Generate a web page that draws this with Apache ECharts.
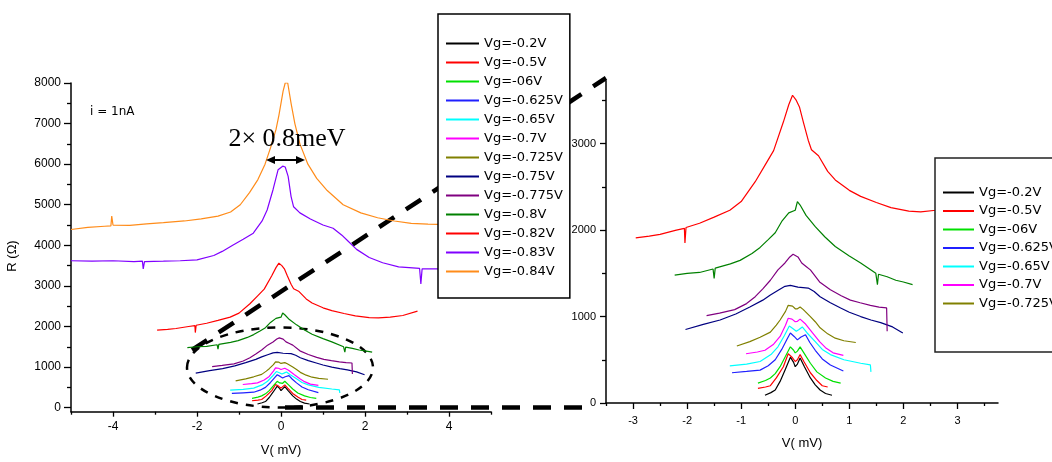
<!DOCTYPE html>
<html><head><meta charset="utf-8">
<script src="https://cdn.jsdelivr.net/npm/echarts@6/dist/echarts.min.js"></script>
<style>html,body{margin:0;padding:0;background:#fff}#c{width:1052px;height:462px}</style>
</head><body><div id="c"></div><script>
// ---- data (V in mV, R in Ohm) ----
const seriesNames = ['Vg=-0.2V','Vg=-0.5V','Vg=-06V','Vg=-0.625V','Vg=-0.65V','Vg=-0.7V','Vg=-0.725V','Vg=-0.75V','Vg=-0.775V','Vg=-0.8V','Vg=-0.82V','Vg=-0.83V','Vg=-0.84V'];
const seriesColors = ['#000000','#ff0000','#00e000','#2020ff','#00ffff','#ff00ff','#808000','#000080','#800080','#008000','#ff0000','#8000ff','#ff8c1a'];
const leftXTicks = [-4,-2,0,2,4];
const leftXMinor = [-5,-3,-1,1,3,5];
const leftYTicks = [0,1000,2000,3000,4000,5000,6000,7000,8000];
const leftYMinor = [500,1500,2500,3500,4500,5500,6500,7500];
const rightXTicks = [-3,-2,-1,0,1,2,3];
const rightXMinor = [-3.5,-2.5,-1.5,-0.5,0.5,1.5,2.5,3.5];
const rightYTicks = [0,1000,2000,3000];
const rightYMinor = [500,1500,2500,3500];
const rightLegendNames = ['Vg=-0.2V','Vg=-0.5V','Vg=-06V','Vg=-0.625V','Vg=-0.65V','Vg=-0.7V','Vg=-0.725V'];

const vg020 = [[-0.56,90],[-0.45,120],[-0.37,150],[-0.28,250],[-0.19,380],[-0.09,530],[-0.03,470],[0,420],[0.04,450],[0.09,520],[0.17,420],[0.28,290],[0.37,210],[0.46,150],[0.56,110],[0.68,90]];
const vg050 = [[-0.69,170],[-0.55,185],[-0.46,200],[-0.35,290],[-0.22,420],[-0.13,570],[-0.06,530],[0,480],[0.04,500],[0.09,560],[0.16,480],[0.28,350],[0.4,260],[0.5,200],[0.6,185]];
const vg060 = [[-0.69,230],[-0.55,260],[-0.46,290],[-0.37,340],[-0.28,420],[-0.18,540],[-0.09,650],[-0.03,610],[0,580],[0.04,600],[0.09,650],[0.18,560],[0.28,460],[0.4,360],[0.56,290],[0.7,250],[0.84,230]];
const vg0625 = [[-1.17,350],[-0.9,365],[-0.65,380],[-0.5,430],[-0.37,500],[-0.25,620],[-0.15,740],[-0.09,810],[-0.02,770],[0.04,730],[0.1,760],[0.19,790],[0.27,700],[0.37,610],[0.5,510],[0.65,440],[0.89,370]];
const vg065 = [[-1.21,430],[-0.9,450],[-0.65,480],[-0.45,560],[-0.32,650],[-0.2,780],[-0.11,890],[-0.04,860],[0.02,830],[0.07,850],[0.13,880],[0.22,810],[0.37,710],[0.5,620],[0.65,560],[0.9,500],[1.21,460],[1.39,440],[1.4,360]];
const vg070 = [[-0.91,570],[-0.7,590],[-0.56,610],[-0.4,680],[-0.28,770],[-0.18,900],[-0.13,980],[-0.06,970],[0,940],[0.04,945],[0.09,970],[0.18,920],[0.32,810],[0.45,710],[0.56,640],[0.7,580],[0.89,550]];
const vg0725 = [[-1.08,660],[-0.84,710],[-0.65,760],[-0.46,820],[-0.35,900],[-0.28,960],[-0.18,1060],[-0.13,1130],[-0.05,1120],[0,1090],[0.04,1090],[0.09,1110],[0.15,1080],[0.28,1000],[0.37,940],[0.46,870],[0.6,800],[0.74,750],[0.9,720],[1.12,700]];
const vg075 = [[-2.03,850],[-1.7,910],[-1.39,960],[-1.1,1030],[-0.84,1110],[-0.6,1190],[-0.46,1250],[-0.3,1310],[-0.19,1350],[-0.09,1360],[0.05,1340],[0.24,1330],[0.35,1290],[0.46,1230],[0.65,1160],[0.84,1100],[1.0,1050],[1.21,1000],[1.4,960],[1.58,930],[1.8,880],[1.99,810]];
const vg0775 = [[-1.64,1010],[-1.4,1040],[-1.12,1080],[-0.9,1150],[-0.74,1230],[-0.6,1320],[-0.46,1420],[-0.32,1540],[-0.19,1620],[-0.1,1690],[-0.04,1720],[0.05,1690],[0.12,1620],[0.2,1580],[0.28,1540],[0.45,1400],[0.65,1310],[0.85,1240],[1.02,1190],[1.2,1160],[1.39,1130],[1.55,1110],[1.69,1100],[1.7,830]];
const vg080 = [[-2.23,1480],[-2.0,1500],[-1.77,1510],[-1.52,1550],[-1.5,1440],[-1.48,1560],[-1.2,1610],[-1.02,1650],[-0.8,1730],[-0.65,1800],[-0.5,1890],[-0.37,1970],[-0.25,2100],[-0.12,2200],[0,2230],[0.04,2330],[0.09,2290],[0.2,2170],[0.37,2040],[0.55,1920],[0.74,1810],[1.0,1700],[1.21,1620],[1.49,1500],[1.52,1370],[1.54,1490],[1.7,1460],[1.86,1420],[2.0,1400],[2.17,1370]];
const vg082 = [[-2.95,1910],[-2.7,1930],[-2.5,1950],[-2.2,2000],[-2.05,2020],[-2.04,1850],[-2.02,2030],[-1.77,2080],[-1.5,2150],[-1.21,2230],[-1,2330],[-0.74,2560],[-0.55,2760],[-0.4,2920],[-0.22,3250],[-0.12,3450],[-0.05,3560],[0.02,3500],[0.08,3420],[0.15,3250],[0.24,3040],[0.3,2930],[0.43,2860],[0.6,2680],[0.74,2580],[1,2460],[1.21,2390],[1.5,2320],[1.77,2260],[2.1,2220],[2.32,2210],[2.6,2230],[2.9,2270],[3.25,2380]];
const vg083 = [[-5,3620],[-4.5,3610],[-4,3620],[-3.5,3600],[-3.3,3610],[-3.28,3420],[-3.25,3600],[-2.8,3610],[-2.4,3620],[-2,3640],[-1.6,3750],[-1.4,3850],[-1.14,4010],[-0.9,4150],[-0.66,4300],[-0.45,4600],[-0.33,4870],[-0.19,5370],[-0.07,5860],[0.04,5950],[0.1,5930],[0.17,5700],[0.24,5200],[0.3,4950],[0.45,4800],[0.7,4650],[1.0,4500],[1.24,4420],[1.45,4250],[1.6,4100],[1.8,3900],[2.1,3700],[2.42,3570],[2.8,3470],[3.3,3430],[3.33,3050],[3.36,3420],[3.7,3420],[4.2,3410],[5,3400]];
const vg084 = [[-5,4390],[-4.6,4440],[-4.2,4470],[-4.05,4480],[-4.03,4720],[-4.0,4500],[-3.6,4490],[-3.2,4530],[-2.8,4560],[-2.3,4600],[-1.9,4650],[-1.5,4720],[-1.2,4820],[-0.97,5000],[-0.75,5300],[-0.55,5620],[-0.38,6000],[-0.25,6400],[-0.12,6850],[-0.05,7200],[0.05,7800],[0.1,8000],[0.16,8000],[0.24,7500],[0.33,7000],[0.45,6500],[0.64,6000],[0.85,5650],[1.1,5350],[1.48,5000],[1.9,4800],[2.3,4680],[2.7,4600],[3.1,4540],[3.5,4520],[4,4510],[4.5,4500],[5,4500]];
const allData = [vg020,vg050,vg060,vg0625,vg065,vg070,vg0725,vg075,vg0775,vg080,vg082,vg083,vg084];

// ---- chart ----
const chart = echarts.init(document.getElementById('c'), null, {renderer:'canvas'});
const FONT = 'Liberation Sans';
function majorAxis(grid, min, max, ticks, pos, tickLen, labelMargin, fs){
  return {type:'value', gridIndex:grid, min:min, max:max, position:pos,
    axisLine:{show:true, onZero:false, lineStyle:{color:'#000', width:1.5}},
    axisTick:{show:true, inside:false, length:tickLen, customValues:ticks, lineStyle:{color:'#000', width:1.3}},
    axisLabel:{show:true, customValues:ticks, margin:labelMargin, color:'#000', fontFamily:FONT, fontSize:fs,
      formatter:function(v){ return String(v); }},
    splitLine:{show:false}};
}
function minorAxis(grid, min, max, ticks, pos, tickLen){
  return {type:'value', gridIndex:grid, min:min, max:max, position:pos,
    axisLine:{show:false, onZero:false},
    axisTick:{show:true, inside:false, length:tickLen, customValues:ticks, lineStyle:{color:'#000', width:1.3}},
    axisLabel:{show:false}, splitLine:{show:false}};
}
const xA0 = majorAxis(0,-5,5,leftXTicks,'bottom',5,9,12);
xA0.name = 'V( mV)'; xA0.nameLocation='middle'; xA0.nameGap=32;
xA0.nameTextStyle = {fontFamily:FONT, fontSize:13, color:'#000'};
const xA2 = majorAxis(1,-3.5,3.75,rightXTicks,'bottom',6,12,11);
xA2.name = 'V( mV)'; xA2.nameLocation='middle'; xA2.nameGap=34;
xA2.nameTextStyle = {fontFamily:FONT, fontSize:13, color:'#000'};

const series = [];
allData.forEach((d,i)=>{
  series.push({type:'line', name:seriesNames[i], xAxisIndex:0, yAxisIndex:0, data:d,
    showSymbol:false, symbol:'none', lineStyle:{width:1.2, color:seriesColors[i]}, itemStyle:{color:seriesColors[i]}});
});
allData.slice(0,11).forEach((d,i)=>{
  series.push({type:'line', name:seriesNames[i], xAxisIndex:2, yAxisIndex:2, data:d,
    showSymbol:false, symbol:'none', lineStyle:{width:1.2, color:seriesColors[i]}, itemStyle:{color:seriesColors[i]}});
});

const legendText = {fontFamily:'DejaVu Sans', fontSize:13, color:'#000'};
const option = {
  animation:false,
  backgroundColor:'#fff',
  grid:[{left:71, top:83, width:420, height:328.7},{left:606, top:81, width:392, height:322}],
  xAxis:[xA0, minorAxis(0,-5,5,leftXMinor,'bottom',3), xA2, minorAxis(1,-3.5,3.75,rightXMinor,'bottom',3)],
  yAxis:[majorAxis(0,-100,8000,leftYTicks,'left',7,10,12), minorAxis(0,-100,8000,leftYMinor,'left',4),
         majorAxis(1,0,3725,rightYTicks,'left',6,10,11), minorAxis(1,0,3725,rightYMinor,'left',4)],
  legend:[
    {data:seriesNames, orient:'vertical', left:438, top:14, padding:[23,7,20,7], itemGap:6,
     itemWidth:33, itemHeight:14, backgroundColor:'#fff', borderColor:'#000', borderWidth:1.5,
     itemStyle:{opacity:0}, textStyle:legendText, selectedMode:false},
    {data:rightLegendNames, orient:'vertical', left:935, top:158, padding:[28,40,42,7], itemGap:5.5,
     itemWidth:31, itemHeight:14, backgroundColor:'#fff', borderColor:'#222', borderWidth:1.5,
     itemStyle:{opacity:0}, textStyle:legendText, selectedMode:false}
  ],
  graphic:[
    {type:'text', z:5, style:{x:12, y:256, text:'R (Ω)', font:'13px "Liberation Sans"', fill:'#000', textAlign:'center', textVerticalAlign:'middle'}, rotation:Math.PI/2, originX:12, originY:256},
    {type:'text', z:5, style:{x:90, y:112, text:'i = 1nA', font:'12px "DejaVu Sans"', fill:'#000', textAlign:'left', textVerticalAlign:'middle'}},
    {type:'text', z:5, style:{x:287, y:139, text:'2× 0.8meV', font:'26px "Liberation Serif"', fill:'#000', textAlign:'center', textVerticalAlign:'middle'}},
    {type:'line', z:5, shape:{x1:272, y1:160, x2:299, y2:160}, style:{stroke:'#000', lineWidth:2}},
    {type:'polygon', z:5, shape:{points:[[266,160],[275,156],[275,164]]}, style:{fill:'#000'}},
    {type:'polygon', z:5, shape:{points:[[305,160],[296,156],[296,164]]}, style:{fill:'#000'}},
    {type:'ellipse', z:3, shape:{cx:280, cy:367.5, rx:93, ry:40}, style:{fill:null, stroke:'#000', lineWidth:2.5, lineDash:[8,8]}},
    {type:'line', z:3, shape:{x1:192, y1:350, x2:606, y2:78}, style:{stroke:'#000', lineWidth:4.5, lineDash:[18,14]}},
    {type:'line', z:3, shape:{x1:285, y1:407.5, x2:582, y2:407.5}, style:{stroke:'#000', lineWidth:4.5, lineDash:[18,13]}}
  ],
  series:series
};
chart.setOption(option);
</script></body></html>
